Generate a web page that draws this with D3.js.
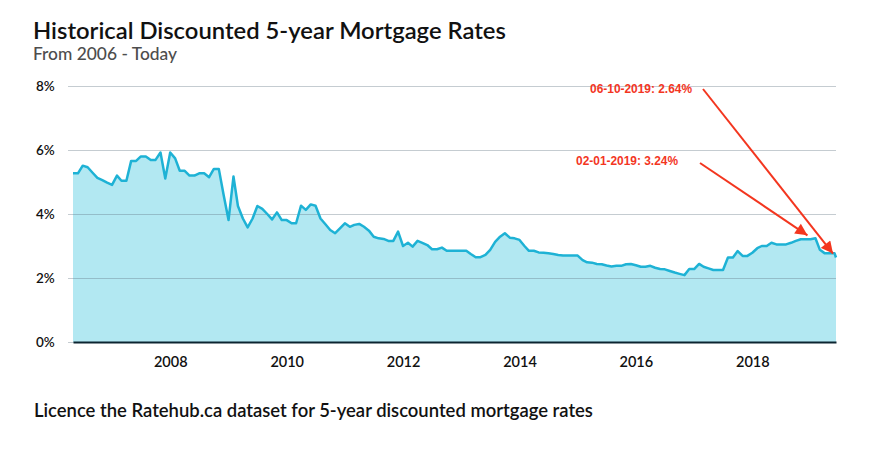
<!DOCTYPE html>
<html>
<head>
<meta charset="utf-8">
<script src="https://cdn.jsdelivr.net/npm/d3@7"></script>
<style>
    body { margin: 0; background: #fff; }
    svg { display: block; }
</style>
</head>
<body>
<svg width="884" height="449"></svg>
<script>

//// HISTORICAL 5-YEAR RATES AREA CHART ////

// monthly rates, first value is May 2006, last monthly value is June 2019
var rates = [
    5.27, 5.27, 5.51, 5.46, 5.29, 5.13, 5.06, 4.98,                    // 2006
    4.91, 5.20, 5.04, 5.04, 5.66, 5.66, 5.80, 5.80, 5.69, 5.69, 5.92, 5.11, // 2007
    5.92, 5.74, 5.35, 5.35, 5.20, 5.20, 5.27, 5.27, 5.15, 5.41, 5.41, 4.60, // 2008
    3.81, 5.17, 4.25, 3.86, 3.58, 3.86, 4.25, 4.16, 4.00, 3.83, 4.05, 3.81, // 2009
    3.81, 3.71, 3.71, 4.26, 4.13, 4.30, 4.26, 3.86, 3.68, 3.50, 3.40, 3.55, // 2010
    3.71, 3.60, 3.66, 3.69, 3.60, 3.48, 3.29, 3.24, 3.22, 3.16, 3.16, 3.45, // 2011
    3.00, 3.10, 2.98, 3.16, 3.10, 3.03, 2.90, 2.90, 2.95, 2.85, 2.85, 2.85, // 2012
    2.85, 2.85, 2.75, 2.65, 2.65, 2.72, 2.88, 3.13, 3.29, 3.40, 3.26, 3.24, // 2013
    3.19, 3.00, 2.85, 2.85, 2.80, 2.79, 2.77, 2.75, 2.72, 2.70, 2.70, 2.70, // 2014
    2.70, 2.56, 2.49, 2.48, 2.44, 2.43, 2.39, 2.36, 2.38, 2.38, 2.43, 2.44, // 2015
    2.40, 2.35, 2.35, 2.38, 2.32, 2.28, 2.27, 2.22, 2.17, 2.13, 2.09, 2.28, // 2016
    2.28, 2.44, 2.35, 2.30, 2.25, 2.25, 2.25, 2.64, 2.64, 2.84, 2.69, 2.69, // 2017
    2.79, 2.93, 3.00, 3.00, 3.10, 3.05, 3.05, 3.05, 3.10, 3.16, 3.21, 3.21, // 2018
    3.21, 3.24, 2.88, 2.77, 2.77, 2.77                                    // 2019
];
var firstMonth = "2006-05-01";
var lastDate = "2019-06-10";
var lastRate = 2.64;

// y ticks and x tick years
var yTicks = [0, 2, 4, 6, 8];
var xTickYears = [2008, 2010, 2012, 2014, 2016, 2018];

// the two callouts
var notes = [
    { date: "2019-02-01", rate: 3.24, label: "02-01-2019: 3.24%" },
    { date: "2019-06-10", rate: 2.64, label: "06-10-2019: 2.64%" }
];

var parse = d3.timeParse("%Y-%m-%d");

// build the series (one point per month + the last reading)
var months = d3.timeMonth.range(parse(firstMonth), d3.timeMonth.offset(parse(firstMonth), rates.length));
var data = rates.map(function (r, i) { return { date: months[i], rate: r }; });
data.push({ date: parse(lastDate), rate: lastRate });

var svg = d3.select("svg");

// scales
var x = d3.scaleTime()
    .domain([parse(firstMonth), parse(lastDate)])
    .range([73, 836]);
var y = d3.scaleLinear()
    .domain([0, 8])
    .range([342, 86]);

// fit a text element to a wanted width by changing its font size
function fitWidth(sel, target) {
    var fs = parseFloat(sel.attr("font-size"));
    var w = sel.node().getComputedTextLength();
    sel.attr("font-size", (fs * target / w).toFixed(2));
}

// title + subtitle
var title = svg.append("text")
    .attr("x", 33).attr("y", 39)
    .attr("font-family", "Lato, sans-serif")
    .attr("font-weight", 600)
    .attr("font-size", 22)
    .attr("fill", "#111")
    .text("Historical Discounted 5-year Mortgage Rates");
fitWidth(title, 473);

var sub = svg.append("text")
    .attr("x", 33).attr("y", 60)
    .attr("font-family", "Lato, sans-serif")
    .attr("font-weight", 500)
    .attr("font-size", 16)
    .attr("fill", "#4d4d4d")
    .text("From 2006 - Today");
fitWidth(sub, 144);

// area
var area = d3.area()
    .x(function (d) { return x(d.date); })
    .y0(y(0))
    .y1(function (d) { return y(d.rate); });

svg.append("path")
    .datum(data)
    .attr("fill", "#b2e8f2")
    .attr("d", area);

// gridlines + y labels
var yAxis = svg.append("g")
    .attr("transform", "translate(68,0)")
    .call(d3.axisLeft(y).tickValues(yTicks).tickSize(-(836 - 68)).tickFormat(function (d) { return d + "%"; }));
yAxis.select(".domain").remove();
yAxis.selectAll(".tick line")
    .attr("stroke", "rgba(95,115,128,0.36)")
    .attr("stroke-width", 1);
yAxis.selectAll(".tick text")
    .attr("x", 36 - 68)
    .attr("text-anchor", "start")
    .attr("font-family", "Lato, sans-serif")
    .attr("font-weight", 600)
    .attr("font-size", 13.5)
    .attr("fill", "#111");

// line
var line = d3.line()
    .x(function (d) { return x(d.date); })
    .y(function (d) { return y(d.rate); });

svg.append("path")
    .datum(data)
    .attr("fill", "none")
    .attr("stroke", "#1eb2d5")
    .attr("stroke-width", 2.5)
    .attr("stroke-linejoin", "round")
    .attr("d", line);

// x axis
var xAxis = svg.append("g")
    .attr("transform", "translate(0," + y(0) + ")")
    .call(d3.axisBottom(x)
        .tickValues(xTickYears.map(function (yr) { return new Date(yr, 0, 1); }))
        .tickSize(0)
        .tickPadding(15)
        .tickFormat(d3.timeFormat("%Y")));
xAxis.select(".domain")
    .attr("stroke", "#0c2530")
    .attr("stroke-width", 2);
xAxis.selectAll(".tick text")
    .attr("font-family", "Lato, sans-serif")
    .attr("font-weight", 600)
    .attr("font-size", 14.5)
    .attr("fill", "#111");

// callouts
svg.append("defs").append("marker")
    .attr("id", "head")
    .attr("viewBox", "0 0 10 10")
    .attr("refX", 10).attr("refY", 5)
    .attr("markerWidth", 7).attr("markerHeight", 6)
    .attr("markerUnits", "strokeWidth")
    .attr("orient", "auto")
    .append("path")
    .attr("d", "M0,0L10,5L0,10Z")
    .attr("fill", "#f3361f");

var noteText = [{ x: 678, y: 165 }, { x: 692, y: 93 }];
var noteStart = [{ x: 700, y: 163 }, { x: 703, y: 89 }];
var noteOffset = [{ dx: -8, dy: -3 }, { dx: -3, dy: -4 }];

notes.forEach(function (n, i) {
    var t = svg.append("text")
        .attr("x", noteText[i].x).attr("y", noteText[i].y)
        .attr("text-anchor", "end")
        .attr("font-family", "'Liberation Sans', Arial, sans-serif")
        .attr("font-weight", "bold")
        .attr("font-size", 12.5)
        .attr("fill", "#f3361f")
        .text(n.label);
    fitWidth(t, 102);
    svg.append("line")
        .attr("x1", noteStart[i].x).attr("y1", noteStart[i].y)
        .attr("x2", x(parse(n.date)) + noteOffset[i].dx)
        .attr("y2", y(n.rate) + noteOffset[i].dy)
        .attr("stroke", "#f3361f")
        .attr("stroke-width", 2)
        .attr("marker-end", "url(#head)");
});

// footer link text
var foot = svg.append("text")
    .attr("x", 34).attr("y", 417)
    .attr("font-family", "Lato, sans-serif")
    .attr("font-weight", 600)
    .attr("font-size", 17)
    .attr("fill", "#111")
    .text("Licence the Ratehub.ca dataset for 5-year discounted mortgage rates");
fitWidth(foot, 559);

</script>
</body>
</html>
